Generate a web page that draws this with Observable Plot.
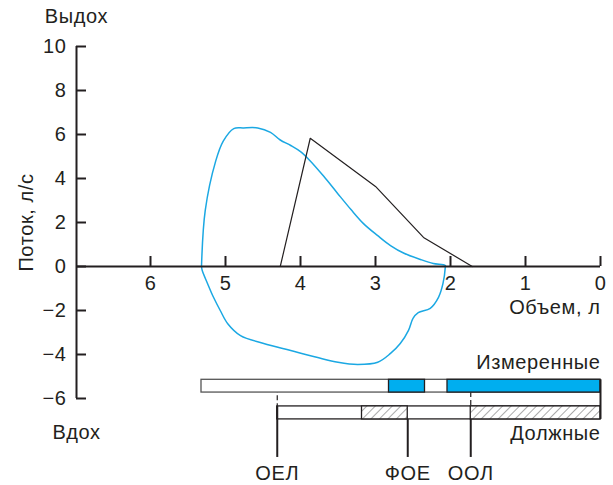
<!DOCTYPE html>
<html>
<head>
<meta charset="utf-8">
<script src="https://cdn.jsdelivr.net/npm/d3@7"></script>
<script src="https://cdn.jsdelivr.net/npm/@observablehq/plot@0.6"></script>
<style>
  html, body { margin: 0; padding: 0; background: #fff; }
  #chart svg { display: block; }
  #chart svg text { letter-spacing: 0.6px; }
</style>
</head>
<body>
<div id="chart"></div>
<script>
// ---- data ----
const xTicks = [6, 5, 4, 3, 2, 1, 0];
const yTicks = [10, 8, 6, 4, 2, 0, -2, -4, -6];

// measured flow-volume loop (volume l, flow l/s)
const loopVolume = [5.32, 5.27, 5.13, 5.03, 4.89, 4.76, 4.57, 4.40, 4.27, 4.13, 4.00, 3.87, 3.69, 3.50, 3.33, 3.16, 2.97, 2.80, 2.62, 2.40, 2.23, 2.07,
  2.07, 2.10, 2.16, 2.27, 2.43, 2.50, 2.56, 2.67, 2.80, 2.97, 3.24, 3.50, 3.77, 4.13, 4.49, 4.80, 4.97, 5.07, 5.16, 5.24, 5.31, 5.32];
const loopFlow = [0, 2.55, 4.80, 5.70, 6.27, 6.30, 6.30, 6.10, 5.75, 5.50, 5.22, 4.80, 4.10, 3.30, 2.60, 1.95, 1.40, 0.95, 0.60, 0.32, 0.14, 0.05,
  -0.05, -0.77, -1.40, -1.90, -2.10, -2.36, -2.90, -3.50, -3.95, -4.35, -4.45, -4.35, -4.14, -3.82, -3.50, -3.14, -2.60, -2.00, -1.40, -0.77, -0.18, 0];

// predicted expiratory curve
const predVolume = [4.27, 3.87, 3.00, 2.36, 1.71];
const predFlow = [0, 5.83, 3.64, 1.32, 0];

// lung volumes bars
const measuredBar = [5.32, 0];
const measuredFilled = [[2.82, 2.34], [2.04, 0]];
const predictedBar = [4.31, 0];
const predictedHatched = [[3.18, 2.57], [1.73, 0]];
const markers = [
  {name: "ОЕЛ", v: 4.31},
  {name: "ФОЕ", v: 2.57},
  {name: "ООЛ", v: 1.73}
];

// ---- layout (flow units for rows below the axis) ----
const xMax = 524 / 75;
const rowMeasured = [-5.15, -5.73];
const rowPredicted = [-6.36, -6.95];
const markerBottom = -8.68;
const labelRow = -9.42;

const loop = loopVolume.map((v, i) => ({v, f: loopFlow[i]}));
const pred = predVolume.map((v, i) => ({v, f: predFlow[i]}));

const ink = "#231f20";
const blue = "#1ba8e3";
const font = "'Liberation Sans', Arial, Helvetica, sans-serif";
const fmt = d => d < 0 ? "\u2212" + Math.abs(d) : String(d);

const plot = Plot.plot({
  width: 613,
  height: 485,
  margin: 0,
  style: {fontFamily: font, fontSize: "20px", color: ink, background: "#fff"},
  x: {domain: [xMax, 0], range: [76, 600], axis: null},
  y: {domain: [-6, 10], range: [398, 46], axis: null},
  marks: [
    // measured loop
    Plot.line(loop, {x: "v", y: "f", stroke: blue, strokeWidth: 1.5, curve: "catmull-rom"}),
    // predicted curve
    Plot.line(pred, {x: "v", y: "f", stroke: ink, strokeWidth: 1.2}),
    // axes
    Plot.ruleX([xMax], {y1: -6, y2: 10, stroke: ink, strokeWidth: 2}),
    Plot.ruleY([0], {x1: xMax, x2: 0, stroke: ink, strokeWidth: 2}),
    Plot.ruleY(yTicks, {y: d => d, x1: xMax, x2: xMax - 10 / 75, stroke: ink, strokeWidth: 2}),
    Plot.ruleX(xTicks, {x: d => d, y1: 0, y2: 10 / 22, stroke: ink, strokeWidth: 2}),
    Plot.text(yTicks, {x: xMax, y: d => d, dx: -10, textAnchor: "end", text: fmt, fill: ink}),
    Plot.text(xTicks, {x: d => d, y: 0, dy: 17, text: fmt, fill: ink}),
    // axis labels and annotations
    Plot.text(["Выдох"], {x: xMax, y: 11.36, text: d => d, fill: ink}),
    Plot.text(["Вдох"], {x: xMax, y: -7.55, text: d => d, fill: ink}),
    Plot.text(["Объем, л"], {x: 0, y: -1.89, textAnchor: "end", text: d => d, fill: ink}),
    Plot.text(["Поток, л/с"], {x: (600 - 26) / 75, y: 2.0, rotate: -90, text: d => d, fill: ink}),
    Plot.text(["Измеренные"], {x: 0, y: -4.38, textAnchor: "end", text: d => d, fill: ink}),
    Plot.text(["Должные"], {x: 0, y: -7.6, textAnchor: "end", text: d => d, fill: ink}),
    // dashed connectors
    Plot.ruleX([markers[0].v], {x: d => d, y1: rowMeasured[0], y2: rowPredicted[0], stroke: ink, strokeWidth: 1.2, strokeDasharray: "5,3"}),
    Plot.ruleX([markers[2].v], {x: d => d, y1: rowMeasured[1], y2: rowPredicted[0], stroke: ink, strokeWidth: 1.2, strokeDasharray: "5,3"}),
    // measured bar
    Plot.rect([measuredBar], {x1: d => d[0], x2: d => d[1], y1: rowMeasured[0], y2: rowMeasured[1], fill: "#fff", stroke: "#555", strokeWidth: 1.3}),
    Plot.rect(measuredFilled, {x1: d => d[0], x2: d => d[1], y1: rowMeasured[0], y2: rowMeasured[1], fill: "#00aeef", stroke: ink, strokeWidth: 1.3}),
    // predicted bar
    Plot.rect([predictedBar], {x1: d => d[0], x2: d => d[1], y1: rowPredicted[0], y2: rowPredicted[1], fill: "#fff", stroke: ink, strokeWidth: 1.3}),
    Plot.rect(predictedHatched, {x1: d => d[0], x2: d => d[1], y1: rowPredicted[0], y2: rowPredicted[1], fill: "url(#hatch)", stroke: ink, strokeWidth: 1.3}),
    Plot.ruleX([0], {x: d => d, y1: rowMeasured[0], y2: rowPredicted[1], stroke: ink, strokeWidth: 2}),
    // marker lines and labels
    Plot.ruleX(markers, {x: "v", y1: d => d.v === markers[0].v ? rowPredicted[0] : rowPredicted[1], y2: markerBottom, stroke: ink, strokeWidth: 2}),
    Plot.text(markers, {x: "v", y: labelRow, text: "name", fill: ink})
  ]
});

// hatch pattern
const ns = "http://www.w3.org/2000/svg";
const defs = document.createElementNS(ns, "defs");
const pat = document.createElementNS(ns, "pattern");
pat.setAttribute("id", "hatch");
pat.setAttribute("patternUnits", "userSpaceOnUse");
pat.setAttribute("width", "6");
pat.setAttribute("height", "6");
pat.setAttribute("patternTransform", "rotate(45)");
const bg = document.createElementNS(ns, "rect");
bg.setAttribute("width", "6"); bg.setAttribute("height", "6"); bg.setAttribute("fill", "#fff");
const ln = document.createElementNS(ns, "line");
ln.setAttribute("x1", "0"); ln.setAttribute("y1", "0");
ln.setAttribute("x2", "0"); ln.setAttribute("y2", "6");
ln.setAttribute("stroke", "#555"); ln.setAttribute("stroke-width", "1");
pat.appendChild(bg); pat.appendChild(ln);
defs.appendChild(pat);
plot.insertBefore(defs, plot.firstChild);

document.getElementById("chart").appendChild(plot);
</script>
</body>
</html>
